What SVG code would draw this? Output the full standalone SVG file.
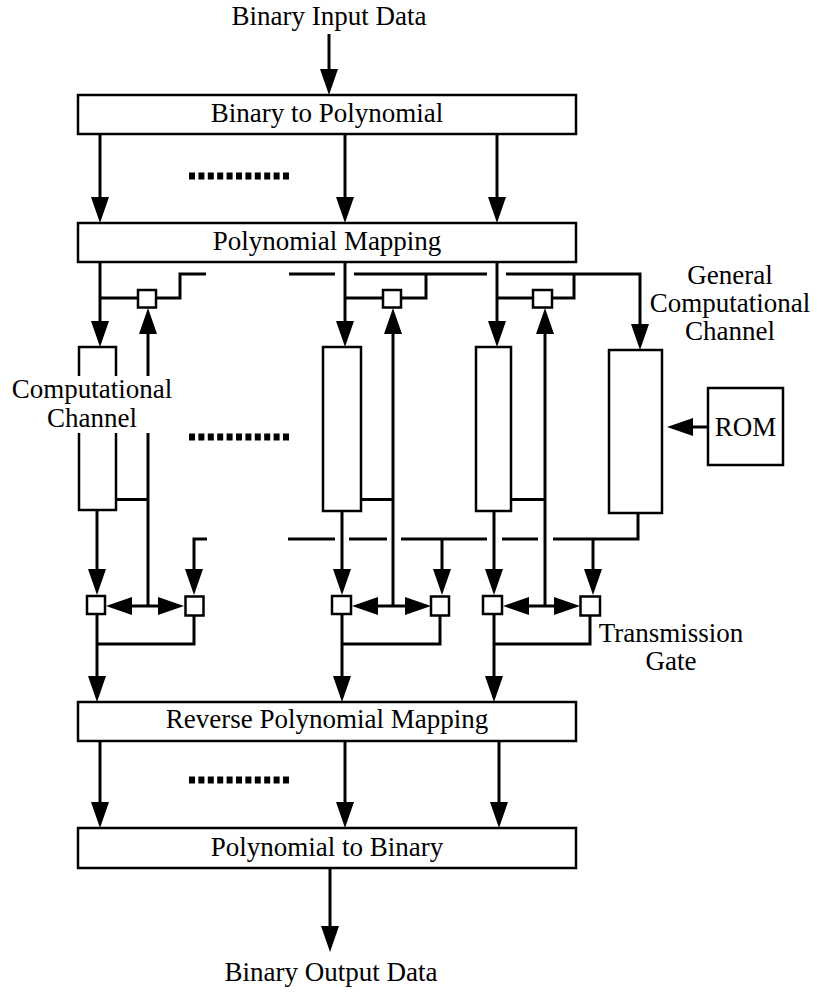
<svg xmlns="http://www.w3.org/2000/svg" width="817" height="993" viewBox="0 0 817 993" font-family="'Liberation Serif', 'Times New Roman', serif">
  <style>
    .box { fill: #fff; stroke: #000; stroke-width: 2.5; }
    .gate { fill: #fff; stroke: #000; stroke-width: 2.5; }
    .wire { fill: none; stroke: #000; stroke-width: 3; }
    .arrow { marker-end: url(#head); }
    .both { marker-start: url(#head); marker-end: url(#head); }
    .dots { fill: none; stroke: #000; stroke-width: 7; stroke-dasharray: 6 3.4; }
    text { font-family: "Liberation Serif", "Times New Roman", serif; font-size: 27px; fill: #000; }
    .mid { text-anchor: middle; }
  </style>
  <defs>
    <marker id="head" markerUnits="userSpaceOnUse" markerWidth="26" markerHeight="18" viewBox="0 0 26 18" refX="20" refY="9" orient="auto-start-reverse">
      <path d="M0,0 L26,9 L0,18 z" fill="#000"/>
    </marker>
  </defs>

  <rect width="817" height="993" fill="#fff"/>

  <!-- top-level stages -->
  <g id="input-label"><text class="mid" x="329" y="25">Binary Input Data</text></g>
  <g id="bin2poly">
    <rect class="box" x="78" y="95" width="498" height="39"/>
    <text class="mid" x="327" y="122">Binary to Polynomial</text>
  </g>
  <g id="polymap">
    <rect class="box" x="78" y="223" width="498" height="39"/>
    <text class="mid" x="327" y="250">Polynomial Mapping</text>
  </g>

  <!-- computational channels -->
  <g id="channel-a"><rect class="box" x="79" y="347" width="37" height="163"/></g>
  <g id="channel-b"><rect class="box" x="323" y="347" width="38" height="164"/></g>
  <g id="channel-c"><rect class="box" x="476" y="347" width="35" height="164"/></g>
  <g id="channel-general"><rect class="box" x="609" y="350" width="53" height="163"/></g>
  <g id="rom">
    <rect class="box" x="708" y="388" width="75" height="77"/>
    <text class="mid" x="745.5" y="436">ROM</text>
  </g>

  <!-- transmission gates, upper row -->
  <g id="gate-a-top"><rect class="gate" x="138" y="290" width="18" height="17.5"/></g>
  <g id="gate-b-top"><rect class="gate" x="383" y="290" width="18" height="17.5"/></g>
  <g id="gate-c-top"><rect class="gate" x="533" y="290" width="19" height="17.5"/></g>

  <!-- transmission gates, lower row -->
  <g id="gate-a-left"><rect class="gate" x="87" y="596" width="18" height="18"/></g>
  <g id="gate-a-right"><rect class="gate" x="185.5" y="596.5" width="18" height="19"/></g>
  <g id="gate-b-left"><rect class="gate" x="332" y="596" width="19" height="18"/></g>
  <g id="gate-b-right"><rect class="gate" x="431" y="596.5" width="18" height="19"/></g>
  <g id="gate-c-left"><rect class="gate" x="483" y="596" width="19" height="18"/></g>
  <g id="gate-c-right"><rect class="gate" x="580.5" y="596.5" width="19.5" height="19"/></g>

  <!-- output stages -->
  <g id="reverse-map">
    <rect class="box" x="78" y="702" width="498" height="39"/>
    <text class="mid" x="327" y="728">Reverse Polynomial Mapping</text>
  </g>
  <g id="poly2bin">
    <rect class="box" x="78" y="828" width="498" height="40"/>
    <text class="mid" x="327" y="856">Polynomial to Binary</text>
  </g>
  <g id="output-label"><text class="mid" x="331" y="981">Binary Output Data</text></g>

  <!-- connectors -->
  <g id="connectors">
    <path class="wire arrow" d="M329,34 V89"/>
    <path class="wire arrow" d="M100,134 V217"/>
    <path class="wire arrow" d="M345,134 V217"/>
    <path class="wire arrow" d="M497,134 V217"/>

    <path class="wire arrow" d="M100,262 V341"/>
    <path class="wire arrow" d="M345,262 V341"/>
    <path class="wire arrow" d="M497,262 V341"/>

    <!-- upper gate taps and shared bus -->
    <path class="wire" d="M100,298 H138"/>
    <path class="wire" d="M156,298 H180 V274 H206"/>
    <path class="wire" d="M289,274 H335"/>
    <path class="wire" d="M345,298 H383"/>
    <path class="wire" d="M401,298 H426 V274"/>
    <path class="wire" d="M354,274 H487"/>
    <path class="wire" d="M497,298 H533"/>
    <path class="wire" d="M552,298 H574 V274"/>
    <path class="wire arrow" d="M506,274 H640 V344"/>

    <!-- feedback lines to upper gates -->
    <path class="wire arrow" d="M148,606 V314"/>
    <path class="wire arrow" d="M393,606 V314"/>
    <path class="wire arrow" d="M545,606 V314"/>
    <path class="wire" d="M116,499.5 H148"/>
    <path class="wire" d="M361,499.5 H393"/>
    <path class="wire" d="M511,499.5 H545"/>

    <!-- channel outputs to lower gates -->
    <path class="wire arrow" d="M97,510 V589"/>
    <path class="wire arrow" d="M342,511 V589"/>
    <path class="wire arrow" d="M494,511 V589"/>

    <!-- gate control pairs -->
    <path class="wire both" d="M112,606 H178"/>
    <path class="wire both" d="M358,606 H425"/>
    <path class="wire both" d="M509,606 H574"/>

    <!-- lower shared bus -->
    <path class="wire arrow" d="M207,539 H194 V589"/>
    <path class="wire" d="M288,539 H335"/>
    <path class="wire" d="M349,539 H387"/>
    <path class="wire" d="M401,539 H487"/>
    <path class="wire arrow" d="M442,539 V589"/>
    <path class="wire" d="M502,539 H538"/>
    <path class="wire" d="M553,539 H638 V513"/>
    <path class="wire arrow" d="M593,539 V589"/>

    <!-- merged gate outputs -->
    <path class="wire arrow" d="M97,614 V696"/>
    <path class="wire arrow" d="M342,614 V696"/>
    <path class="wire arrow" d="M494,614 V696"/>
    <path class="wire" d="M194,615 V644 H97"/>
    <path class="wire" d="M440,615 V644 H342"/>
    <path class="wire" d="M590,615 V644 H494"/>

    <path class="wire arrow" d="M100,741 V822"/>
    <path class="wire arrow" d="M345,741 V822"/>
    <path class="wire arrow" d="M499,741 V822"/>
    <path class="wire arrow" d="M330,868 V946"/>

    <path class="wire arrow" d="M708,427 H673"/>

    <!-- elided channels -->
    <path class="dots" d="M189,176 H291"/>
    <path class="dots" d="M189,437 H291"/>
    <path class="dots" d="M189,780 H291"/>
  </g>

  <!-- labels -->
  <g id="label-channel">
    <rect x="8" y="376" width="168" height="57" fill="#fff"/>
    <text class="mid" x="92" y="398">Computational</text>
    <text class="mid" x="92" y="427">Channel</text>
  </g>
  <g id="label-general">
    <text class="mid" x="730" y="284">General</text>
    <text class="mid" x="730" y="312">Computational</text>
    <text class="mid" x="730" y="340">Channel</text>
  </g>
  <g id="label-gate">
    <text class="mid" x="671" y="642">Transmission</text>
    <text class="mid" x="671" y="670">Gate</text>
  </g>
</svg>
